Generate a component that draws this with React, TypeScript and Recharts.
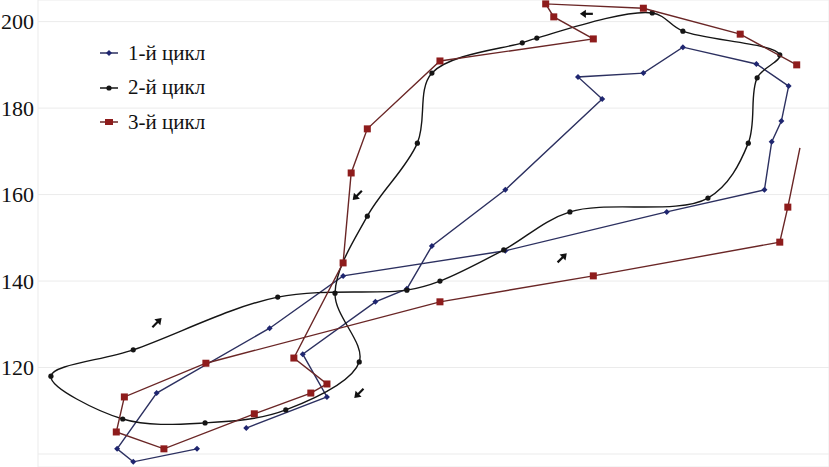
import React from 'react';
import {
  ScatterChart,
  Scatter,
  XAxis,
  YAxis,
  CartesianGrid,
  ReferenceLine,
  ReferenceDot,
  Legend,
} from 'recharts';

const SERIF = "'Liberation Serif', 'Times New Roman', serif";

// 1-й цикл: open polyline, starts and ends at the bottom left
const cycle1: [number, number][] = [
  [44.7, 101.2], [36.8, 98.2], [34.8, 101.2], [39.7, 114.1], [53.7, 129.1],
  [62.8, 141.2], [82.9, 147.0], [102.9, 156.0], [115.0, 161.1], [115.9, 172.2],
  [117.1, 177.0], [118.0, 185.1], [114.0, 190.2], [104.9, 194.1], [100.0, 188.1],
  [91.9, 187.2], [94.9, 182.1], [82.9, 161.1], [73.8, 148.1], [70.7, 138.2],
  [66.8, 135.2], [57.8, 123.1], [60.8, 113.2], [50.8, 106.0],
];

// 2-й цикл: closed smooth loop
const cycle2: [number, number][] = [
  [26.6, 118.0], [36.8, 124.1], [54.7, 136.3], [70.7, 137.9], [74.8, 140.0],
  [82.7, 147.2], [90.9, 156.0], [108.0, 159.2], [113.0, 171.9], [114.1, 187.0],
  [116.9, 192.3], [104.9, 197.8], [101.1, 202.0], [86.8, 196.2], [85.0, 195.1],
  [73.8, 188.1], [72.0, 171.9], [65.8, 155.0], [61.8, 137.2], [64.8, 121.3],
  [55.7, 110.2], [45.7, 107.2], [35.5, 108.1],
];

// 3-й цикл: polyline, the last point has no marker (line runs off)
const cycle3: [number, number][] = [
  [119.0, 190.0], [112.0, 197.1], [100.0, 203.1], [87.9, 204.1], [88.9, 201.1],
  [93.8, 196.0], [74.8, 190.9], [65.8, 175.2], [63.8, 165.0], [62.8, 144.2],
  [56.7, 122.2], [60.8, 116.2], [58.8, 114.1], [51.8, 109.3], [40.6, 101.2],
  [34.7, 105.1], [35.7, 113.2], [45.8, 121.0], [74.8, 135.2], [93.8, 141.2],
  [116.9, 149.0], [117.9, 157.1], [119.4, 170.8],
];

// direction arrows: x, y, angle in degrees
const arrows: [number, number, number][] = [
  [39.7, 130.3, -45],
  [64.6, 159.9, 135],
  [89.9, 145.3, -45],
  [64.8, 114.1, 135],
  [93.0, 201.8, 180],
];

const yTicks = [120, 140, 160, 180, 200];
const xTicks = [40, 60, 80, 100, 120];

const toRows = (pts: [number, number][]) => pts.map(([x, y]) => ({ x, y }));

const BLUE = '#1f2670';
const BLUE_LINE = '#2c3060';
const BLACK = '#151515';
const RED = '#8e1c1c';
const RED_LINE = '#6a2626';
const GRID = '#ebebeb';

// closed centripetal catmull-rom, passed to the scatter line as a d3 curve
function closedCurve(context: any) {
  let pts: number[][] = [];
  return {
    areaStart() {},
    areaEnd() {},
    lineStart() {
      pts = [];
    },
    point(x: number, y: number) {
      pts.push([+x, +y]);
    },
    lineEnd() {
      const n = pts.length;
      if (n < 3) return;
      const at = (i: number) => pts[(i + n) % n];
      context.moveTo(pts[0][0], pts[0][1]);
      for (let i = 0; i < n; i++) {
        const p0 = at(i - 1);
        const p1 = at(i);
        const p2 = at(i + 1);
        const p3 = at(i + 2);
        const l01 = Math.hypot(p1[0] - p0[0], p1[1] - p0[1]);
        const l12 = Math.hypot(p2[0] - p1[0], p2[1] - p1[1]);
        const l23 = Math.hypot(p3[0] - p2[0], p3[1] - p2[1]);
        const a01 = Math.sqrt(l01);
        const a12 = Math.sqrt(l12);
        const a23 = Math.sqrt(l23);
        let c1x = p1[0];
        let c1y = p1[1];
        let c2x = p2[0];
        let c2y = p2[1];
        if (a01 > 1e-6) {
          const a = 2 * l01 + 3 * a01 * a12 + l12;
          const d = 3 * a01 * (a01 + a12);
          c1x = (p1[0] * a - p0[0] * l12 + p2[0] * l01) / d;
          c1y = (p1[1] * a - p0[1] * l12 + p2[1] * l01) / d;
        }
        if (a23 > 1e-6) {
          const b = 2 * l23 + 3 * a23 * a12 + l12;
          const m = 3 * a23 * (a23 + a12);
          c2x = (p2[0] * b + p1[0] * l23 - p3[0] * l12) / m;
          c2y = (p2[1] * b + p1[1] * l23 - p3[1] * l12) / m;
        }
        context.bezierCurveTo(c1x, c1y, c2x, c2y, p2[0], p2[1]);
      }
      context.closePath();
    },
  };
}

const BlueDot = ({ cx, cy }: any) => (
  <path d={`M${cx},${cy - 3} L${cx + 3},${cy} L${cx},${cy + 3} L${cx - 3},${cy} Z`} fill={BLUE} />
);

const BlackDot = ({ cx, cy }: any) => <circle cx={cx} cy={cy} r={2.6} fill={BLACK} />;

const lastRed = cycle3[cycle3.length - 1];
const RedSquare = ({ cx, cy, payload }: any) => {
  if (payload && payload.x === lastRed[0] && payload.y === lastRed[1]) return <g />;
  return <rect x={cx - 3.5} y={cy - 3.5} width={7} height={7} fill={RED} />;
};

const Arrow = ({ cx, cy, angle }: any) => (
  <g transform={`translate(${cx},${cy}) rotate(${angle})`}>
    <line x1={-6} y1={0} x2={2} y2={0} stroke="#111" strokeWidth={2.2} />
    <path d="M7,0 L1,-4.2 L1,4.2 Z" fill="#111" />
  </g>
);

const legendMarks: Record<string, { line: string; mark: (cx: number, cy: number) => React.ReactNode }> = {
  '1-й цикл': {
    line: BLUE_LINE,
    mark: (cx, cy) => <path d={`M${cx},${cy - 3} L${cx + 3},${cy} L${cx},${cy + 3} L${cx - 3},${cy} Z`} fill={BLUE} />,
  },
  '2-й цикл': { line: BLACK, mark: (cx, cy) => <circle cx={cx} cy={cy} r={2.6} fill={BLACK} /> },
  '3-й цикл': {
    line: RED_LINE,
    mark: (cx, cy) => <rect x={cx - 4} y={cy - 3} width={8} height={6} fill={RED} />,
  },
};

const renderLegend = ({ payload }: any) => (
  <div style={{ fontFamily: SERIF, fontSize: 21, color: '#111' }}>
    {(payload || []).map((entry: any) => {
      const m = legendMarks[entry.value];
      return (
        <div key={entry.value} style={{ display: 'flex', alignItems: 'center', height: 34.5 }}>
          <svg width={18} height={10} style={{ display: 'block' }}>
            <line x1={0} y1={5} x2={18} y2={5} stroke={m.line} strokeWidth={1.5} />
            {m.mark(9, 5)}
          </svg>
          <span style={{ marginLeft: 10, whiteSpace: 'nowrap' }}>{entry.value}</span>
        </div>
      );
    })}
  </div>
);

const axisTitle = ({ viewBox }: any) => {
  const x = viewBox.x + viewBox.width - 69;
  return (
    <text x={x} y={461} fontFamily={SERIF} fontSize={20} fill="#111">
      φ<tspan dy={4} fontSize={13}>1</tspan>
      <tspan dy={-4}>, град</tspan>
    </text>
  );
};

export default function App() {
  return (
    <div style={{ position: 'absolute', left: 0, top: 0, width: 829, height: 467, background: '#fff' }}>
      <ScatterChart width={829} height={467} margin={{ top: 0, right: 0, bottom: 0, left: 0 }}>
        <CartesianGrid stroke={GRID} strokeWidth={1} />
        <XAxis
          type="number"
          dataKey="x"
          domain={[25, 123]}
          ticks={xTicks}
          allowDataOverflow
          height={0}
          tick={false}
          tickLine={false}
          axisLine={false}
          label={{ content: axisTitle }}
        />
        <YAxis
          type="number"
          dataKey="y"
          domain={[97, 205]}
          ticks={yTicks}
          allowDataOverflow
          width={38}
          axisLine={false}
          tickLine={false}
          tickSize={4}
          tickMargin={0}
          tick={{ fontFamily: SERIF, fontSize: 22, fill: '#111' }}
        />
        <ReferenceLine y={100} stroke={GRID} />
        <Legend
          layout="vertical"
          align="center"
          verticalAlign="middle"
          content={renderLegend}
          wrapperStyle={{ left: 100, top: 36 }}
        />
        <Scatter
          name="1-й цикл"
          data={toRows(cycle1)}
          line={{ stroke: BLUE_LINE, strokeWidth: 1.4 }}
          lineType="joint"
          shape={BlueDot}
          isAnimationActive={false}
        />
        <Scatter
          name="2-й цикл"
          data={toRows(cycle2)}
          line={{ stroke: BLACK, strokeWidth: 1.4 }}
          lineType="joint"
          lineJointType={closedCurve as any}
          shape={BlackDot}
          isAnimationActive={false}
        />
        <Scatter
          name="3-й цикл"
          data={toRows(cycle3)}
          line={{ stroke: RED_LINE, strokeWidth: 1.4 }}
          lineType="joint"
          shape={RedSquare}
          isAnimationActive={false}
        />
        {arrows.map(([x, y, angle], i) => (
          <ReferenceDot
            key={i}
            x={x}
            y={y}
            r={0}
            shape={(p: any) => <Arrow cx={p.cx} cy={p.cy} angle={angle} />}
          />
        ))}
      </ScatterChart>
    </div>
  );
}
